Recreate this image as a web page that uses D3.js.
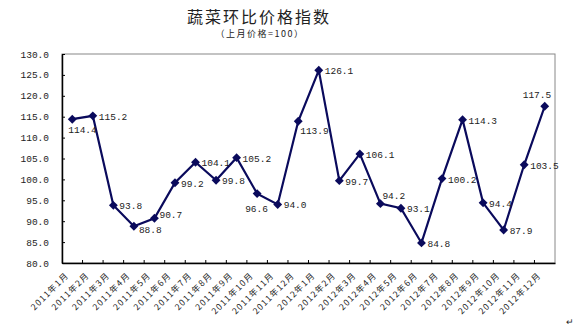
<!DOCTYPE html>
<html lang="zh">
<head>
    <meta charset="UTF-8">
    <title>蔬菜环比价格指数</title>
    <script src="https://d3js.org/d3.v7.min.js"></script>
    <style>
        body { margin: 0; background: #fff; }
        text { fill: #222; }
    </style>
</head>
<body>
<svg width="579" height="333"></svg>
<script>
    let months = ["2011年1月","2011年2月","2011年3月","2011年4月","2011年5月","2011年6月",
        "2011年7月","2011年8月","2011年9月","2011年10月","2011年11月","2011年12月",
        "2012年1月","2012年2月","2012年3月","2012年4月","2012年5月","2012年6月",
        "2012年7月","2012年8月","2012年9月","2012年10月","2012年11月","2012年12月"]
    let values = [114.4,115.2,93.8,88.8,90.7,99.2,104.1,99.8,105.2,96.6,94.0,113.9,
        126.1,99.7,106.1,94.2,93.1,84.8,100.2,114.3,94.4,87.9,103.5,117.5]
    let yTicks = [80,85,90,95,100,105,110,115,120,125,130]
    // where each value label sits relative to its point
    let labelPos = ["bl","r","r","rb","ra","r","r","r","r","bl2","r","b",
        "r","r","r","ar","r","r","r","r","r","r","r","a"]

    let svg = d3.select('svg')
    let pLeft = 62, pRight = 555, pTop = 54, pBottom = 263
    let numFont = "'Liberation Mono', 'DejaVu Sans Mono', monospace"
    let cjkFont = "'Noto Sans CJK SC', sans-serif"

    let x = d3.scaleBand().domain(months).range([pLeft, pRight])
    let y = d3.scaleLinear().domain([80, 130]).range([pBottom, pTop])

    svg.append("text").attr("x", 259).attr("y", 23).attr("text-anchor", "middle")
        .style("font-family", cjkFont).style("font-size", "16px").style("letter-spacing", "2px")
        .text("蔬菜环比价格指数")
    svg.append("text").attr("x", 260).attr("y", 37).attr("text-anchor", "middle")
        .style("font-family", cjkFont).style("font-size", "9px").style("letter-spacing", "1.5px")
        .text("（上月价格=100）")

    // frame
    svg.append("rect").attr("x", pLeft).attr("y", pTop).attr("width", pRight - pLeft).attr("height", pBottom - pTop)
        .attr("fill", "none").attr("stroke", "#888").attr("stroke-width", 1)

    let yAxis = svg.append("g").attr("transform", `translate(${pLeft},0)`)
        .call(d3.axisLeft(y).tickValues(yTicks).tickFormat(d3.format(".1f")).tickSizeInner(-3).tickSizeOuter(0).tickPadding(13))
    yAxis.select(".domain").attr("stroke", "#000").attr("stroke-width", 1.5)
    yAxis.selectAll("text").style("font-family", numFont).style("font-size", "9.5px").attr("fill", "#222")

    let xAxis = svg.append("g").attr("transform", `translate(0,${pBottom})`)
        .call(d3.axisBottom(x).tickSize(0).tickFormat(""))
    xAxis.select(".domain").attr("stroke", "#000").attr("stroke-width", 1.5)
    svg.append("g").selectAll("line").data(months.slice(1)).enter().append("line")
        .attr("x1", d => x(d)).attr("x2", d => x(d))
        .attr("y1", pBottom).attr("y2", pBottom - 3).attr("stroke", "#000")

    svg.append("g").selectAll("text").data(months).enter().append("text")
        .attr("transform", d => `translate(${x(d) + x.bandwidth() / 2 - 3},${pBottom + 13}) rotate(-45)`)
        .attr("text-anchor", "end")
        .style("font-family", cjkFont).style("font-size", "8.5px").style("letter-spacing", "1.2px")
        .text(d => d)

    let line = d3.line().x((d, i) => x(months[i]) + x.bandwidth() / 2).y(d => y(d))
    svg.append("path").datum(values).attr("d", line)
        .attr("fill", "none").attr("stroke", "#0a0a5c").attr("stroke-width", 2.2)

    svg.append("g").selectAll("path").data(values).enter().append("path")
        .attr("d", d3.symbol().type(d3.symbolDiamond2).size(50))
        .attr("transform", (d, i) => `translate(${x(months[i]) + x.bandwidth() / 2},${y(d)})`)
        .attr("fill", "#0a0a5c")

    let offs = { r: [6, 4], rb: [5, 7], ra: [5, 0], bl: [-4, 14], bl2: [-12, 18], b: [2, 13], ar: [2, -5], a: [-22, -8] }
    svg.append("g").selectAll("text").data(values).enter().append("text")
        .attr("x", (d, i) => x(months[i]) + x.bandwidth() / 2 + offs[labelPos[i]][0])
        .attr("y", (d, i) => y(d) + offs[labelPos[i]][1])
        .style("font-family", numFont).style("font-size", "9.5px")
        .text(d => d.toFixed(1))

    svg.append("text").attr("x", 566).attr("y", 325).style("font-size", "9px").attr("fill", "#999").text("↵")
</script>
</body>
</html>
